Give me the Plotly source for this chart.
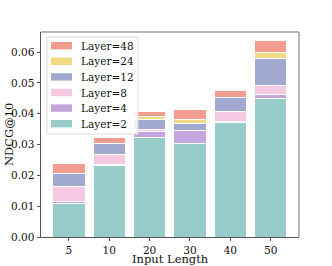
import plotly.graph_objects as go

categories = ["5", "10", "20", "30", "40", "50"]
layer_names = ["Layer=2", "Layer=4", "Layer=8", "Layer=12", "Layer=24", "Layer=48"]
# stacked increments per layer
layer2 = [0.0110, 0.0233, 0.0323, 0.0302, 0.0373, 0.0449]
layer4 = [0.0004, 0.0002, 0.0018, 0.0042, 0.0003, 0.0013]
layer8 = [0.0051, 0.0034, 0.0007, 0.0000, 0.0031, 0.0029]
layer12 = [0.0041, 0.0033, 0.0033, 0.0023, 0.0045, 0.0087]
layer24 = [0.0000, 0.0000, 0.0009, 0.0013, 0.0000, 0.0021]
layer48 = [0.0031, 0.0021, 0.0017, 0.0033, 0.0022, 0.0037]
series = [layer2, layer4, layer8, layer12, layer24, layer48]
colors = ["#98CCCB", "#C4A6DE", "#F6C9E3", "#A1A9D0", "#F2D983", "#F29C8D"]
x_title = "Input Length"
y_title = "NDCG@10"

font_family = "DejaVu Serif"
W, H = 332, 266
ML, MR, MT, MB = 41, 33, 32, 29
PW, PH = W - ML - MR, H - MT - MB


def px(x):
    return (x - ML) / PW


def py(y):
    return (H - MB - y) / PH


fig = go.Figure()
for name, vals, col in zip(layer_names, series, colors):
    fig.add_trace(go.Bar(
        x=categories, y=vals, name=name,
        marker=dict(color=col, line=dict(color="white", width=1)),
    ))

shapes = []
annotations = []
# top / right frame (lighter)
shapes.append(dict(type="line", xref="paper", yref="paper", x0=0, x1=1, y0=1, y1=1,
                   line=dict(color="#A0A0A0", width=1.5), layer="above"))
shapes.append(dict(type="line", xref="paper", yref="paper", x0=1, x1=1, y0=0, y1=1,
                   line=dict(color="#A0A0A0", width=1.5), layer="above"))
# legend box
shapes.append(dict(type="rect", xref="paper", yref="paper",
                   x0=px(47), x1=px(138), y0=py(134), y1=py(37),
                   fillcolor="rgba(255,255,255,0.85)", line=dict(color="#DDDDDD", width=1),
                   layer="above"))
row_h = 15.6
for i, (name, col) in enumerate(zip(reversed(layer_names), reversed(colors))):
    cy = 45.7 + i * row_h
    shapes.append(dict(type="rect", xref="paper", yref="paper",
                       x0=px(51), x1=px(72), y0=py(cy + 3.7), y1=py(cy - 3.7),
                       fillcolor=col, line=dict(width=0), layer="above"))
    annotations.append(dict(xref="paper", yref="paper", x=px(80), y=py(cy),
                            xanchor="left", yanchor="middle", showarrow=False, borderpad=0,
                            text=name, font=dict(family=font_family, size=10.5, color="#111")))

# axis titles
annotations.append(dict(xref="paper", yref="paper", x=0.5, y=py(258.5),
                        xanchor="center", yanchor="middle", showarrow=False, borderpad=0,
                        text=x_title, font=dict(family=font_family, size=11.5, color="#111")))
annotations.append(dict(xref="paper", yref="paper", x=px(8.5), y=0.5,
                        xanchor="center", yanchor="middle", showarrow=False, textangle=-90,
                        borderpad=0,
                        text=y_title, font=dict(family=font_family, size=11.5, color="#111")))

fig.update_layout(
    barmode="stack",
    bargap=0.2,
    width=W, height=H,
    margin=dict(l=ML, r=MR, t=MT, b=MB),
    plot_bgcolor="white", paper_bgcolor="white",
    font=dict(family=font_family, size=10.5, color="#222"),
    showlegend=False,
    shapes=shapes,
    annotations=annotations,
)
fig.update_xaxes(
    type="category", range=[-0.69, 5.70], automargin=False,
    showline=True, linecolor="#555", linewidth=1,
    ticks="outside", ticklen=3, tickcolor="#555",
    tickfont=dict(size=10.5, color="#111"),
    showgrid=False,
)
fig.update_yaxes(
    range=[0, 0.0665], dtick=0.01, tickformat=".2f", automargin=False,
    showline=True, linecolor="#555", linewidth=1,
    ticks="outside", ticklen=3.5, tickcolor="#555",
    tickfont=dict(size=10.5, color="#111"),
    showgrid=False, zeroline=False,
)
fig.write_html("out.html", config={"displayModeBar": False},
               post_script="document.body.style.margin='0';")
